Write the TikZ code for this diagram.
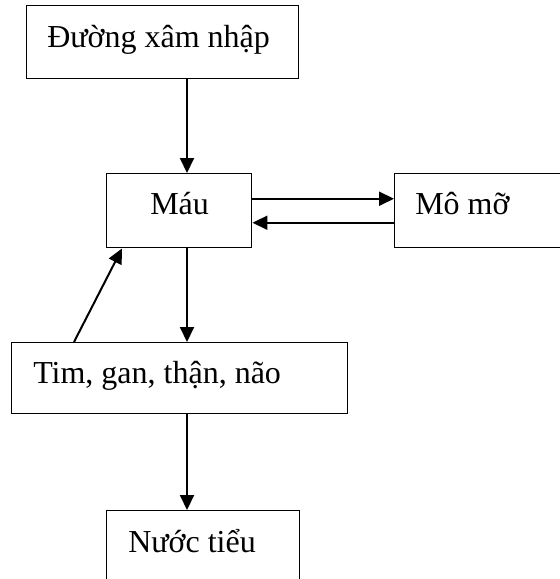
\documentclass[tikz,border=0pt]{standalone}
\usepackage{fontspec}
\setmainfont{Liberation Serif}
\usetikzlibrary{arrows.meta}
\newlength{\px}
\setlength{\px}{0.75pt}
\begin{document}
\begin{tikzpicture}[x=0.75pt,y=-0.75pt,
    box/.style={rectangle,draw=black,line width=1.1pt,anchor=north west,inner sep=0pt},
    lbl/.style={anchor=base west,inner sep=0pt,font=\fontsize{24}{28}\selectfont},
    flow/.style={line width=1.5pt,-{Triangle[length=11.25pt,width=10.5pt]}}]

      \clip (0,0) rectangle (560,579);
      \useasboundingbox (0,0) rectangle (560,579);

      \node[box,minimum width=272\px,minimum height=73\px] (duong) at (26,5){};
      \node[lbl] at ([xshift=21\px,yshift=-42\px]duong.north west){Đường xâm nhập};

      \node[box,minimum width=145\px,minimum height=74\px] (mau) at (106,173){};
      \node[lbl] at ([xshift=44\px,yshift=-41\px]mau.north west){Máu};

      \node[box,minimum width=220\px,minimum height=74\px] (mo) at (394,173){};
      \node[lbl] at ([xshift=21\px,yshift=-41\px]mo.north west){Mô mỡ};

      \node[box,minimum width=336\px,minimum height=71\px] (tim) at (11,342){};
      \node[lbl] at ([xshift=22\px,yshift=-41\px]tim.north west){Tim, gan, thận, não};

      \node[box,minimum width=193\px,minimum height=80\px] (nuoc) at (106,510){};
      \node[lbl] at ([xshift=22\px,yshift=-42\px]nuoc.north west){Nước tiểu};

      \draw[flow] ([xshift=161\px]duong.south west) -- ([xshift=81\px]mau.north west);
      \draw[flow] ([yshift=12\px]mau.east) -- ([yshift=12\px]mo.west);
      \draw[flow] ([yshift=-12\px]mo.west) -- ([yshift=-12\px]mau.east);
      \draw[flow] ([xshift=81\px]mau.south west) -- ([xshift=176\px]tim.north west);
      \draw[flow] ([xshift=63\px]tim.north west) -- ([xshift=16\px]mau.south west);
      \draw[flow] ([xshift=176\px]tim.south west) -- ([xshift=81\px]nuoc.north west);

\end{tikzpicture}
\end{document}
